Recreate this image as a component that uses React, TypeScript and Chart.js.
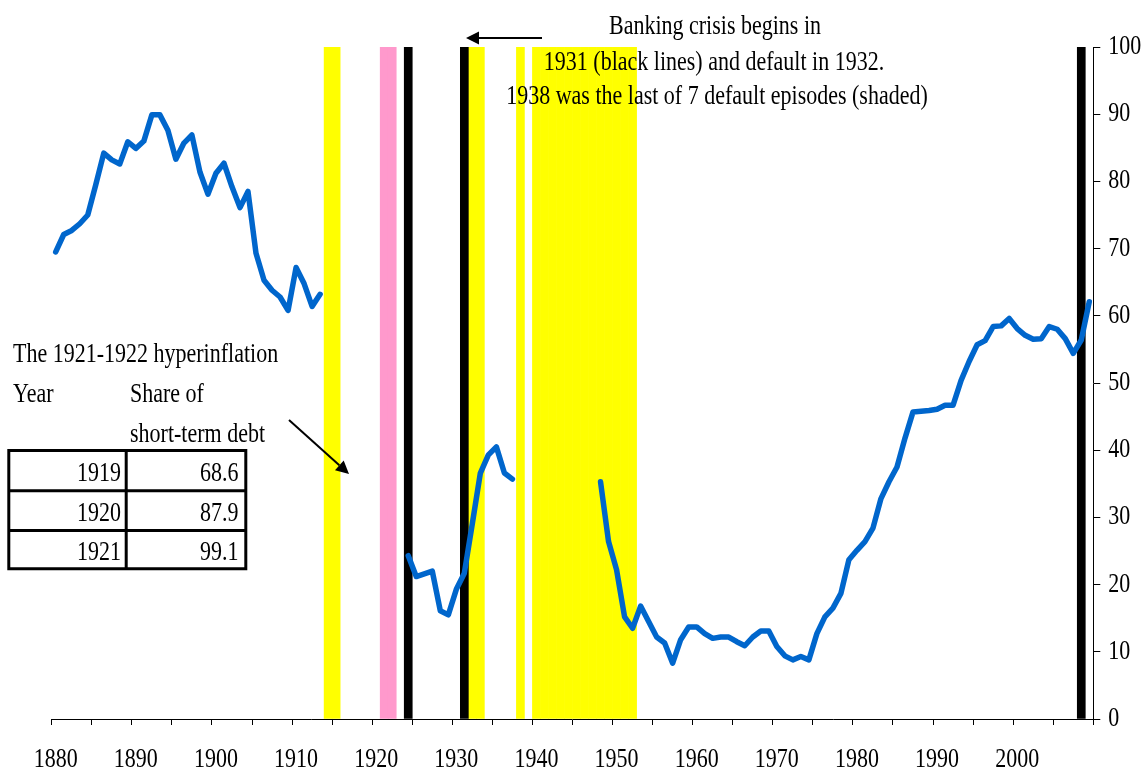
import React, { useEffect, useRef } from 'react';
import { Chart, registerables } from 'chart.js';

Chart.register(...registerables);

const FONT = '"Liberation Serif", "Times New Roman", Times, serif';
const TEXT_STRETCH = 1.2; // reference type is drawn slightly taller than wide

// Category range (years)
const firstYear = 1880;
const lastYear = 2009;

// Share of short-term debt (%), three observed segments
const seg1Start = 1880;
const seg1 = [
  69.5, 72.1, 72.7, 73.7, 75.0, 79.5, 84.2, 83.2, 82.6, 85.9,
  84.9, 86.0, 89.9, 89.9, 87.6, 83.3, 85.7, 86.9, 81.4, 78.1,
  81.2, 82.7, 79.2, 76.1, 78.5, 69.3, 65.3, 63.8, 62.8, 60.8,
  67.2, 64.8, 61.4, 63.2,
];
const seg2Start = 1924;
const seg2 = [24.3, 21.2, 21.6, 22.0, 16.1, 15.5, 19.3, 21.7, 29.1, 36.6, 39.3, 40.5, 36.6, 35.7];
const seg3Start = 1948;
const seg3 = [
  35.3, 26.4, 22.2, 15.2, 13.5, 16.8, 14.5, 12.2, 11.3, 8.3,
  11.8, 13.7, 13.7, 12.7, 12.0, 12.2, 12.2, 11.5, 10.9, 12.2,
  13.1, 13.1, 10.8, 9.4, 8.8, 9.3, 8.8, 12.7, 15.2, 16.5,
  18.7, 23.7, 25.1, 26.4, 28.4, 32.8, 35.3, 37.5, 41.8, 45.7,
  45.8, 45.9, 46.1, 46.7, 46.7, 50.4, 53.2, 55.7, 56.3, 58.4,
  58.5, 59.6, 58.1, 57.1, 56.5, 56.6, 58.4, 58.0, 56.6, 54.4,
  56.4, 62.1,
];

// Shaded episodes
const defaultYears = [1914, 1915, 1932, 1933, 1938, 1940, 1941, 1942, 1943, 1944, 1945, 1946, 1947, 1948, 1949, 1950, 1951, 1952];
const hyperinflationYears = [1921, 1922];
const bankingCrisisYears = [1924, 1931, 2008];
const shadeTop = 100;

// Y axis
const yMin = 0;
const yMax = 100;
const yStep = 10;

// Annotation texts
const noteLines = [
  'Banking crisis begins in',
  '1931 (black lines) and default in 1932.',
  '1938 was the last of 7 default episodes (shaded)',
];
const tableTitle = 'The 1921-1922 hyperinflation';
const tableHeadYear = 'Year';
const tableHeadShare1 = 'Share of';
const tableHeadShare2 = 'short-term debt';
const tableYears = ['1919', '1920', '1921'];
const tableShares = ['68.6', '87.9', '99.1'];

function buildLabels(): number[] {
  const out: number[] = [];
  for (let y = firstYear; y <= lastYear; y++) out.push(y);
  return out;
}

function arrow(ctx: CanvasRenderingContext2D, x1: number, y1: number, x2: number, y2: number) {
  const ang = Math.atan2(y2 - y1, x2 - x1);
  const hl = 13;
  const hw = 6.5;
  const bx = x2 - hl * Math.cos(ang);
  const by = y2 - hl * Math.sin(ang);
  ctx.beginPath();
  ctx.moveTo(x1, y1);
  ctx.lineTo(bx, by);
  ctx.stroke();
  ctx.beginPath();
  ctx.moveTo(x2, y2);
  ctx.lineTo(bx + hw * Math.sin(ang), by - hw * Math.cos(ang));
  ctx.lineTo(bx - hw * Math.sin(ang), by + hw * Math.cos(ang));
  ctx.closePath();
  ctx.fill();
}

const annotationPlugin = {
  id: 'annotations',
  beforeDraw(chart: any) {
    const ctx: any = chart.ctx;
    if (ctx.__origFillText) return;
    const orig = ctx.fillText;
    ctx.__origFillText = orig;
    ctx.fillText = function (text: string, x: number, y: number, maxWidth?: number) {
      this.save();
      this.translate(x, y);
      this.scale(1, TEXT_STRETCH);
      if (maxWidth === undefined) orig.call(this, text, 0, 0);
      else orig.call(this, text, 0, 0, maxWidth);
      this.restore();
    };
  },
  afterDraw(chart: any) {
    const ctx: CanvasRenderingContext2D = chart.ctx;
    ctx.save();
    ctx.fillStyle = '#000';
    ctx.strokeStyle = '#000';
    ctx.font = `22px ${FONT}`;
    ctx.textBaseline = 'middle';

    // top note
    ctx.textAlign = 'center';
    ctx.fillText(noteLines[0], 715, 27);
    ctx.fillText(noteLines[1], 714, 63);
    ctx.fillText(noteLines[2], 717, 97);

    ctx.lineWidth = 2.2;
    arrow(ctx, 542, 38, 466, 38);

    // hyperinflation table
    ctx.textAlign = 'left';
    ctx.fillText(tableTitle, 13, 355);
    ctx.fillText(tableHeadYear, 13, 395);
    ctx.fillText(tableHeadShare1, 130, 395);
    ctx.fillText(tableHeadShare2, 130, 435);

    ctx.lineWidth = 2;
    arrow(ctx, 289, 420, 349, 474);

    const left = 8.8, right = 245.8, mid = 126.2;
    const rows = [450.5, 490.8, 530.5, 568.8];
    ctx.lineWidth = 3;
    ctx.beginPath();
    ctx.rect(left, rows[0], right - left, rows[3] - rows[0]);
    ctx.moveTo(left, rows[1]); ctx.lineTo(right, rows[1]);
    ctx.moveTo(left, rows[2]); ctx.lineTo(right, rows[2]);
    ctx.moveTo(mid, rows[0]); ctx.lineTo(mid, rows[3]);
    ctx.stroke();

    ctx.textAlign = 'right';
    for (let i = 0; i < tableYears.length; i++) {
      const cy = (rows[i] + rows[i + 1]) / 2 + 3;
      ctx.fillText(tableYears[i], 121, cy);
      ctx.fillText(tableShares[i], 238.5, cy);
    }
    ctx.restore();

    const anyCtx: any = ctx;
    if (anyCtx.__origFillText) {
      anyCtx.fillText = anyCtx.__origFillText;
      delete anyCtx.__origFillText;
    }
  },
};

export default function App() {
  const canvasRef = useRef<HTMLCanvasElement | null>(null);

  useEffect(() => {
    const canvas = canvasRef.current;
    if (!canvas) return;
    const labels = buildLabels();
    const lineData: (number | null)[] = labels.map(() => null);
    const put = (start: number, arr: number[]) => {
      arr.forEach((v, i) => {
        const idx = start + i - firstYear;
        if (idx >= 0 && idx < lineData.length) lineData[idx] = v;
      });
    };
    put(seg1Start, seg1);
    put(seg2Start, seg2);
    put(seg3Start, seg3);
    const shade = (yrs: number[]) => labels.map((y) => (yrs.includes(y) ? shadeTop : null));

    const barCommon = {
      type: 'bar' as const,
      barPercentage: 1,
      categoryPercentage: 1,
      grouped: false,
      borderWidth: 0,
    };

    const chart = new Chart(canvas, {
      type: 'bar',
      data: {
        labels,
        datasets: [
          {
            type: 'line',
            label: 'Share of short-term debt',
            data: lineData,
            borderColor: '#0066CC',
            backgroundColor: '#0066CC',
            borderWidth: 5.5,
            pointRadius: 0,
            spanGaps: false,
            tension: 0,
            borderJoinStyle: 'round',
            borderCapStyle: 'round',
            order: 0,
          } as any,
          { ...barCommon, label: 'Banking crisis', data: shade(bankingCrisisYears), backgroundColor: '#000000', order: 1 } as any,
          { ...barCommon, label: 'Hyperinflation', data: shade(hyperinflationYears), backgroundColor: '#FF99CC', order: 2 } as any,
          { ...barCommon, label: 'Default', data: shade(defaultYears), backgroundColor: '#FFFF00', order: 3 } as any,
        ],
      },
      options: {
        responsive: false,
        animation: false,
        devicePixelRatio: 1,
        layout: { padding: { left: 51.7, top: 47, right: 0, bottom: 0 } },
        plugins: { legend: { display: false }, tooltip: { enabled: false } },
        scales: {
          x: {
            type: 'category',
            offset: true,
            grid: {
              offset: true,
              drawOnChartArea: false,
              drawTicks: true,
              tickLength: 6,
              lineWidth: 1,
              tickColor: (c: any) => (c.index === undefined || c.index % 5 === 0 ? '#000' : 'rgba(0,0,0,0)'),
            },
            border: { display: true, color: '#000', width: 1 },
            ticks: {
              autoSkip: false,
              maxRotation: 0,
              minRotation: 0,
              padding: 22,
              color: '#000',
              font: { family: FONT, size: 22 },
              callback: (_v: any, i: number) => (labels[i] % 10 === 0 ? String(labels[i]) : ''),
            },
            afterFit: (s: any) => { s.height = 51; },
          },
          y: {
            position: 'right',
            min: yMin,
            max: yMax,
            grid: { drawOnChartArea: false, drawTicks: true, tickLength: 7, tickColor: '#000', lineWidth: 1 },
            border: { display: true, color: '#000', width: 1 },
            ticks: { stepSize: yStep, padding: 8, color: '#000', font: { family: FONT, size: 22 } },
            afterFit: (s: any) => { s.width = 53.7; },
          },
        },
      },
      plugins: [annotationPlugin],
    });
    return () => chart.destroy();
  }, []);

  return (
    <div style={{ position: 'fixed', left: 0, top: 0, width: 1147, height: 770, background: '#fff' }}>
      <canvas ref={canvasRef} width={1147} height={770} style={{ display: 'block' }} />
    </div>
  );
}
